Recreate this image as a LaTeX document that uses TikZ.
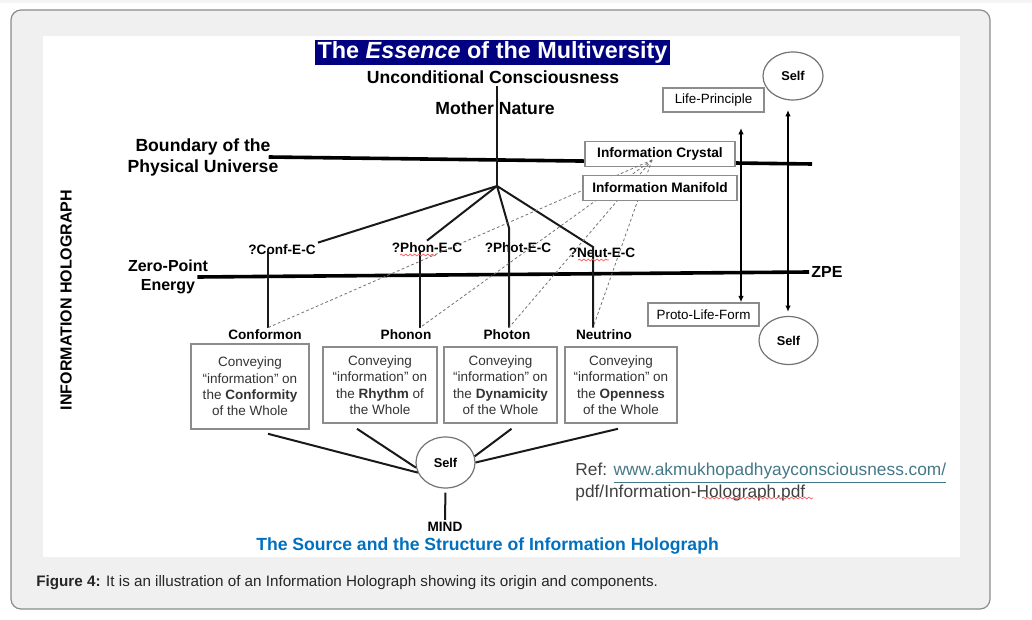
\documentclass[tikz,border=0pt]{standalone}
\usepackage{fontspec}
\setmainfont{Liberation Sans}
\usetikzlibrary{arrows.meta,shapes.geometric,decorations.pathmorphing}
\definecolor{titlenavy}{rgb}{0.0, 0.0, 0.50}
\definecolor{sourceblue}{rgb}{0.0, 0.44, 0.75}
\definecolor{linkteal}{rgb}{0.27, 0.47, 0.53}
\definecolor{pagegray}{rgb}{0.94, 0.94, 0.94}
\tikzset{
  heading/.style={
    font=\fontsize{8.8}{10.5}\selectfont\bfseries,
    align=center,
    inner sep=1pt
  },
  planelabel/.style={
    font=\fontsize{8}{9.8}\selectfont\bfseries,
    align=center,
    inner sep=1pt
  },
  eclabel/.style={
    font=\fontsize{6.8}{8}\selectfont\bfseries,
    inner sep=1pt
  },
  infobox/.style={
    draw=black!45,
    line width=0.7pt,
    fill=white,
    minimum height=12.3pt,
    inner sep=2pt,
    font=\fontsize{6.85}{8}\selectfont\bfseries
  },
  lifebox/.style={
    draw=black!45,
    line width=0.7pt,
    fill=white,
    minimum height=12pt,
    inner sep=2pt,
    font=\fontsize{6.7}{8}\selectfont
  },
  whole/.style={
    draw=black!45,
    line width=0.8pt,
    fill=white,
    align=center,
    minimum width=56.5pt,
    minimum height=38pt,
    inner sep=2pt,
    text=black!80,
    font=\fontsize{6.75}{8.2}\selectfont
  },
  selfnode/.style={
    ellipse,
    draw=black!55,
    line width=0.6pt,
    fill=white,
    minimum width=29.5pt,
    minimum height=24pt,
    inner sep=0pt,
    font=\fontsize{6.4}{7.5}\selectfont\bfseries
  },
  stem/.style={
    line width=1pt,
    black!90
  },
  plane/.style={
    line width=1.8pt,
    black
  },
  guide/.style={
    black!55,
    line width=0.4pt,
    dash pattern=on 1.4pt off 1.2pt
  },
  link/.style={
    {Latex[length=3.2pt,width=2.8pt]}-{Latex[length=3.2pt,width=2.8pt]},
    line width=0.75pt
  },
  squiggle/.style={
    red!65,
    line width=0.35pt,
    decorate,
    decoration={snake, amplitude=0.45pt, segment length=2.2pt}
  }
}

\begin{document}
\begin{tikzpicture}[x=0.5pt, y=-0.5pt]
\useasboundingbox (0,0) rectangle (1032,620);
% page frame
\fill[black!4] (0,0) rectangle (1032,3);
\draw[black!45, line width=0.6pt, fill=pagegray, rounded corners=5pt] (11,10) rectangle (990,609);
\fill[white] (43,36) rectangle (960,557);

% headings
\node[font=\fontsize{11.7}{14}\selectfont\bfseries, fill=titlenavy, text=white,
  minimum width=177.5pt, minimum height=12.5pt, inner sep=0pt] (title) at (492.5,52.5)
  {The \textit{Essence} of the Multiversity};
\node[heading] (uc) at (493,77) {Unconditional Consciousness};
\node[heading] (mother) at (495,108) {Mother Nature};
\node[heading] (boundary) at (203,157) {Boundary of the\\Physical Universe};
\node[planelabel] (zeropoint) at (168,277) {Zero-Point\\Energy};
\node[planelabel] (zpe) at (827,272) {ZPE};
\node[planelabel, rotate=90] (holo) at (66,300) {INFORMATION HOLOGRAPH};

% energy carriers and particles
\node[eclabel] (confec) at (282,250) {?Conf-E-C};
\node[eclabel] (phonec) at (427,248) {?Phon-E-C};
\node[eclabel] (photec) at (518,248) {?Phot-E-C};
\node[eclabel] (neutec) at (602,253) {?Neut-E-C};
\node[eclabel] (conformon) at (265,335) {Conformon};
\node[eclabel] (phonon) at (406,335) {Phonon};
\node[eclabel] (photon) at (507,335) {Photon};
\node[eclabel] (neutrino) at (604,335) {Neutrino};

\coordinate (hub) at (497,186);
\coordinate (bndend) at (812,164);
\coordinate (confj) at (268,250);
\coordinate (phonj) at (420,250);
\coordinate (photj) at (509,228);
\coordinate (neutj) at (593,247);
\coordinate (focus) at (652,160);
\coordinate (lifetop) at (741,128);
\coordinate (selftip) at (788,110);

% planes
\draw[plane] ([xshift=-6pt]boundary.east) -- (bndend);
\draw[plane] ([xshift=-6.5pt]zeropoint.east) -- (zpe.west);

% tree
\draw[stem] (uc.south -| hub) -- (hub);
\draw[stem] (hub) -- (confec.north east);
\draw[stem] (hub) -- (phonec.north);
\draw[stem] (hub) -- (photj) -- (photj |- photon.north);
\draw[stem] (hub) -- (neutj) -- (neutj |- neutrino.north);
\draw[stem] (confj) -- (confj |- conformon.north);
\draw[stem] (phonj) -- (phonj |- phonon.north);

\node[infobox, minimum width=75pt] (crystal) at (660,154) {Information Crystal};
\draw[guide] (focus) -- (confj |- conformon.north);
\draw[guide] (focus) -- (phonj |- phonon.north);
\draw[guide] (focus) -- (photj |- photon.north);
\draw[guide] (focus) -- (neutj |- neutrino.north);
\node[infobox, minimum width=77pt] (manifold) at (660,188) {Information Manifold};

% life side
\node[lifebox, minimum width=50.5pt] (life) at (713.5,100) {Life-Principle};
\node[lifebox, minimum width=55.5pt, minimum height=11.5pt] (proto) at (703.5,314.5) {Proto-Life-Form};
\node[selfnode, minimum width=30pt] (selftop) at (793,76) {Self};
\node[selfnode] (selfright) at (788.5,340.5) {Self};
\draw[link] (lifetop) -- (lifetop |- proto.north);
\draw[link, shorten >=2pt] (selftip) -- (selftip |- selfright.north);

% information boxes
\node[whole, minimum width=59pt, minimum height=42.5pt] (conformity) at (250,386.5)
  {Conveying\\“information” on\\the \textbf{Conformity}\\of the Whole};
\node[whole, minimum width=57pt] (rhythm) at (380,385)
  {Conveying\\“information” on\\the \textbf{Rhythm} of\\the Whole};
\node[whole] (dynamicity) at (500.5,385)
  {Conveying\\“information” on\\the \textbf{Dynamicity}\\of the Whole};
\node[whole, minimum width=56pt] (openness) at (621,385)
  {Conveying\\“information” on\\the \textbf{Openness}\\of the Whole};

\node[selfnode, minimum height=25.5pt] (selfmind) at (445.5,462.5) {Self};
\node[eclabel] (mind) at (445,527) {MIND};
\draw[stem] ([xshift=9pt,yshift=-2pt]conformity.south) -- (selfmind.200);
\draw[stem] ([xshift=-11.5pt,yshift=-2.5pt]rhythm.south) -- (selfmind.190);
\draw[stem] ([xshift=5.5pt,yshift=-2.5pt]dynamicity.south) -- (selfmind.12);
\draw[stem] ([xshift=-1.5pt,yshift=-2.5pt]openness.south) -- (selfmind.0);
\draw[stem, shorten <=2pt] (selfmind.south) -- (mind.north);

\node[heading, text=sourceblue] (source) at (487.5,546) {The Source and the Structure of Information Holograph};
\node[anchor=north west, align=left, inner sep=0pt, font=\fontsize{8.65}{10.6}\selectfont, text=black!75] (ref) at (575,463)
  {Ref: \textcolor{linkteal}{\underline{www.akmukhopadhyayconsciousness.com/}}\\pdf/Information-Holograph.pdf};

% spelling marks
\draw[squiggle] (400,255) -- (436,255);
\draw[squiggle] (578,260) -- (609,260);
\draw[squiggle] (702,498) -- (813,498);

% caption
\node[anchor=west, inner sep=0pt, font=\fontsize{7.6}{9}\selectfont, text=black!85] (caption) at (36,583)
  {\textbf{Figure 4:} It is an illustration of an Information Holograph showing its origin and components.};
\end{tikzpicture}
\end{document}
